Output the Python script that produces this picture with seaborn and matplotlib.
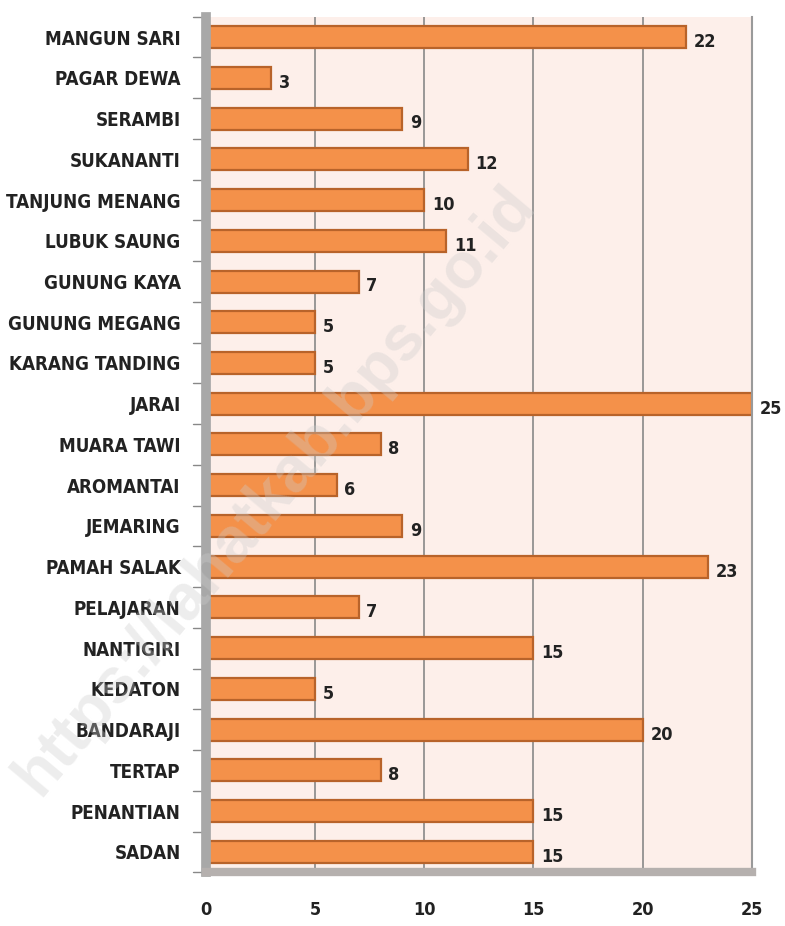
import numpy as np
import pandas as pd
import matplotlib
matplotlib.use("Agg")
import matplotlib.pyplot as plt
import seaborn as sns

# ── Data ─────────────────────────────────────────────────────────────────────
desa = [
    "MANGUN SARI", "PAGAR DEWA", "SERAMBI", "SUKANANTI", "TANJUNG MENANG",
    "LUBUK SAUNG", "GUNUNG KAYA", "GUNUNG MEGANG", "KARANG TANDING", "JARAI",
    "MUARA TAWI", "AROMANTAI", "JEMARING", "PAMAH SALAK", "PELAJARAN",
    "NANTIGIRI", "KEDATON", "BANDARAJI", "TERTAP", "PENANTIAN", "SADAN",
]
jumlah = [22, 3, 9, 12, 10, 11, 7, 5, 5, 25, 8, 6, 9, 23, 7, 15, 5, 20, 8, 15, 15]
x_ticks = [0, 5, 10, 15, 20, 25]

df = pd.DataFrame({"desa": desa, "jumlah": jumlah})

# ── Style ────────────────────────────────────────────────────────────────────
sns.set_style("white")
plt.rcParams["font.family"] = ["DejaVu Sans"]
plt.rcParams["font.stretch"] = "condensed"
plt.rcParams["font.weight"] = "bold"

fig = plt.figure(figsize=(7.85, 9.26), dpi=100)
ax = fig.add_axes([0.262, 0.058, 0.696, 0.924])
ax.set_facecolor("#FDEFEA")

sns.barplot(data=df, x="jumlah", y="desa", orient="h", ax=ax,
            color="#F4914A", saturation=1, width=0.54,
            edgecolor="#B8632A", linewidth=1.6)

for i, v in enumerate(jumlah):
    ax.text(v + 0.35, i + 0.12, str(v), va="center", ha="left",
            fontsize=13, fontweight="bold", color="#222222")

ax.set_xlim(0, 25)
ax.set_ylim(20.5, -0.5)
ax.set_xticks(x_ticks)
ax.set_xticklabels([str(t) for t in x_ticks], fontsize=13, fontweight="bold",
                   color="#222222")
ax.tick_params(axis="x", pad=13, length=8, color="#777777", width=1, direction="out")
ax.tick_params(axis="y", length=0, pad=18, labelsize=13.5, labelcolor="#222222")
for lbl in ax.get_yticklabels():
    lbl.set_fontweight("bold")

ax.set_xlabel("")
ax.set_ylabel("")
ax.xaxis.grid(True, color="#888888", linewidth=1.2)
ax.set_axisbelow(True)

# walls of the pseudo-3D box
ax.spines["top"].set_visible(False)
ax.spines["right"].set_color("#9A9A9A")
ax.spines["right"].set_linewidth(1.5)
ax.spines["left"].set_color("#A8A8A8")
ax.spines["left"].set_linewidth(7)
ax.spines["bottom"].set_color("#B5B0AE")
ax.spines["bottom"].set_linewidth(6)

# small separators on the category axis
for b in np.arange(-0.5, 21, 1):
    ax.plot([-0.6, -0.15], [b, b], color="#888888", lw=1, clip_on=False)

# watermark
fig.text(0.35, 0.47, "https://lahatkab.bps.go.id", rotation=50,
         fontsize=46, color="#CCCCCC", alpha=0.35, ha="center", va="center",
         fontweight="bold", family=["Liberation Sans", "DejaVu Sans"])

fig.savefig("out.png", dpi=100)
